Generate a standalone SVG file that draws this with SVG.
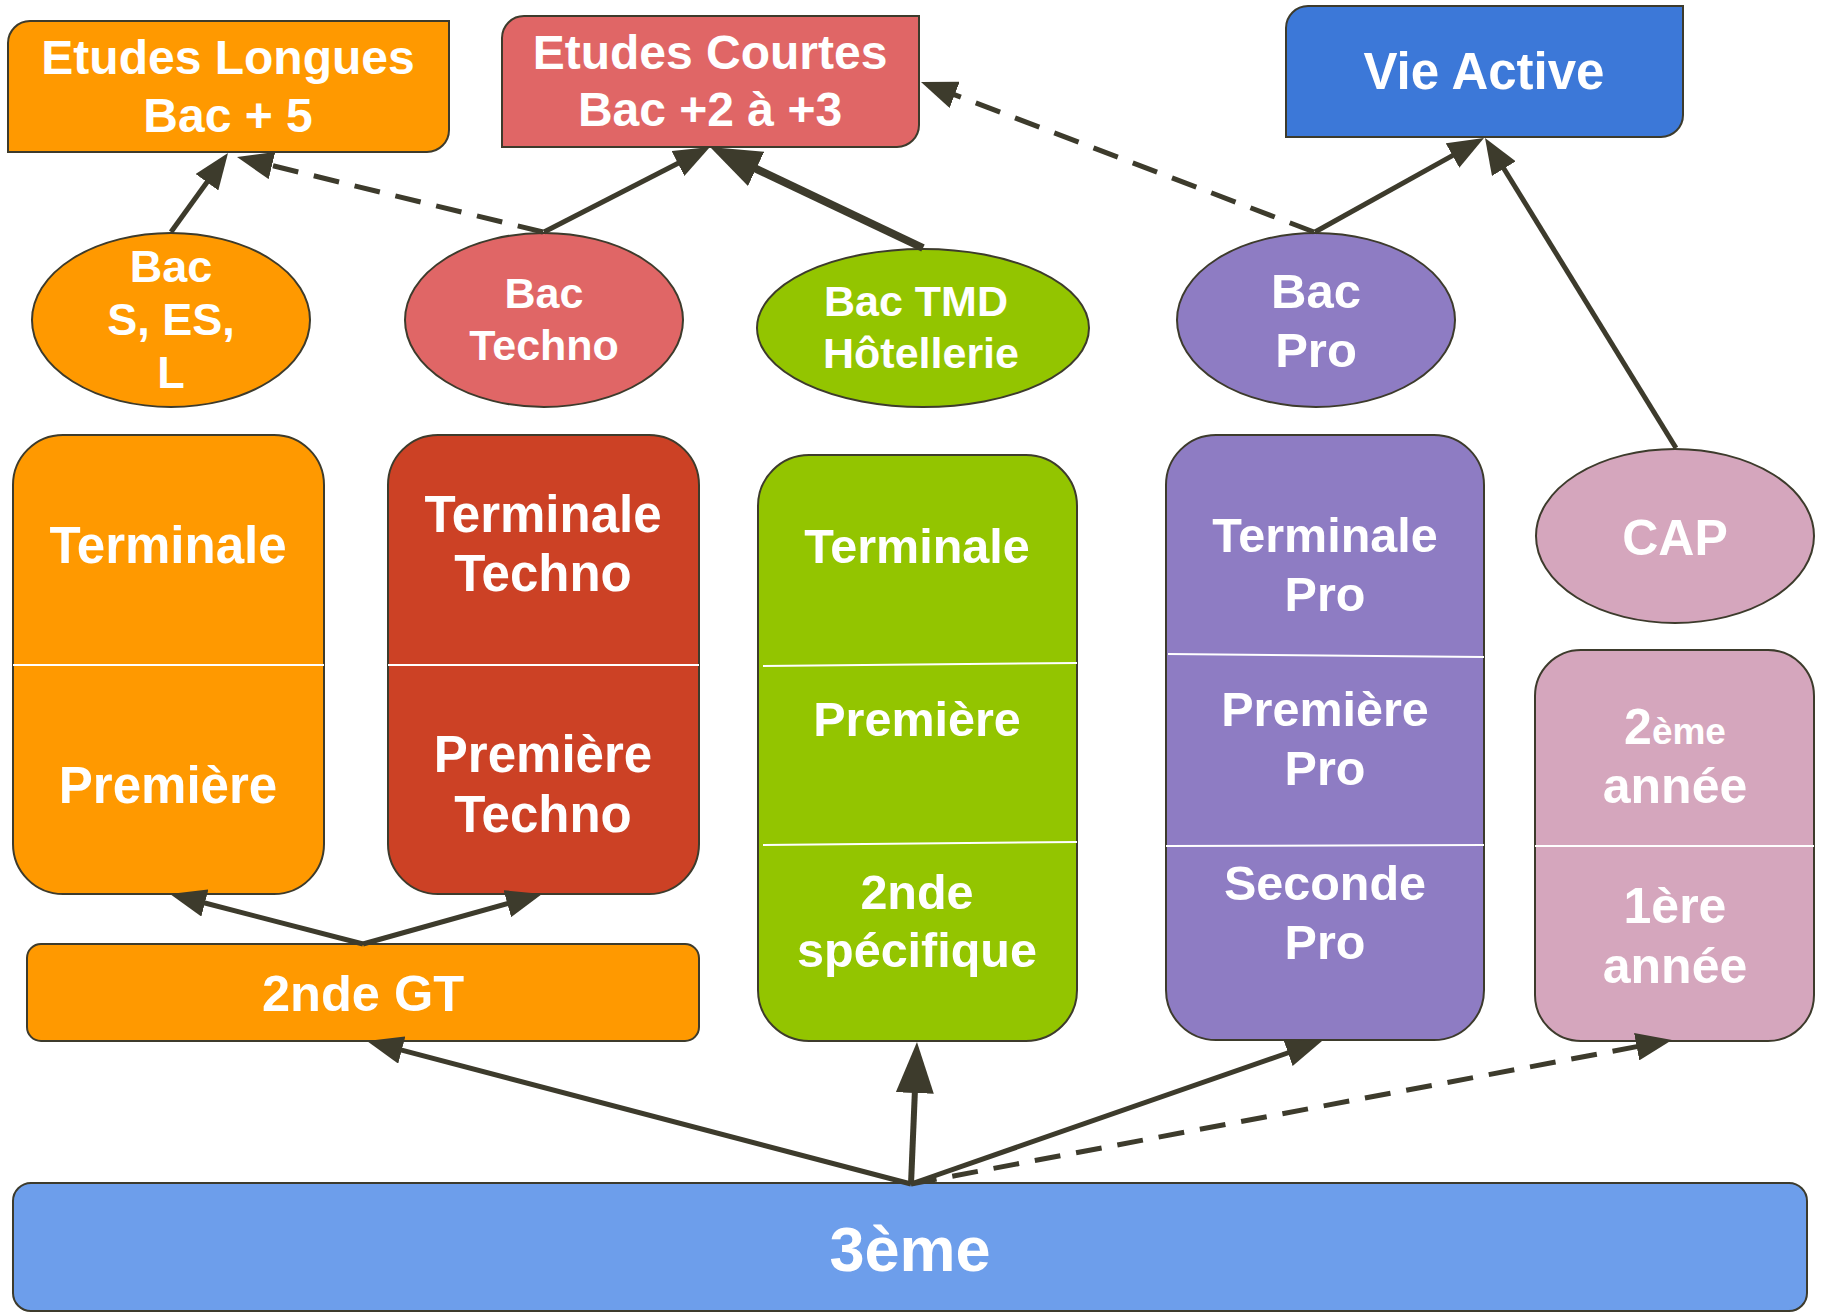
<svg xmlns="http://www.w3.org/2000/svg" width="1827" height="1313" viewBox="0 0 1827 1313">
<style>
.n{stroke:#3d3b2c;stroke-width:2}
.t{fill:#fff;font-family:"Liberation Sans",Arial,sans-serif;font-weight:bold;text-anchor:middle}
.dv{stroke:#fff;stroke-width:2;fill:none}
.c{stroke:#3d3b2c;stroke-width:5;fill:none;marker-end:url(#ah)}
.ck{stroke:#3d3b2c;stroke-width:8;fill:none;marker-end:url(#ahl)}
.d{stroke-dasharray:26 16}
</style>
<defs>
<marker id="ah" markerUnits="userSpaceOnUse" viewBox="-4 -14 36 28" markerWidth="36" markerHeight="28" refX="0" refY="0" orient="auto">
<path d="M-4,-14 L32,0 L-4,14 Z" fill="#3d3b2c"/>
</marker>
<marker id="ahl" markerUnits="userSpaceOnUse" viewBox="-4 -19 51 38" markerWidth="51" markerHeight="38" refX="0" refY="0" orient="auto">
<path d="M-4,-19 L47,0 L-4,19 Z" fill="#3d3b2c"/>
</marker>
</defs>
<rect width="1827" height="1313" fill="#fff"/>

<g id="etudes-longues">
<path class="n" fill="#FF9900" d="M8,152 L8,43 A22,22 0 0 1 30,21 L449,21 L449,130 A22,22 0 0 1 427,152 Z"/>
<text class="t" x="228" y="74" font-size="48">Etudes Longues</text>
<text class="t" x="228" y="132" font-size="48">Bac + 5</text>
</g>
<g id="etudes-courtes">
<path class="n" fill="#E06666" d="M502,147 L502,38 A22,22 0 0 1 524,16 L919,16 L919,125 A22,22 0 0 1 897,147 Z"/>
<text class="t" x="710" y="69" font-size="48">Etudes Courtes</text>
<text class="t" x="710" y="126" font-size="48">Bac +2 à +3</text>
</g>
<g id="vie-active">
<path class="n" fill="#3C78D8" d="M1286,137 L1286,28 A22,22 0 0 1 1308,6 L1683,6 L1683,115 A22,22 0 0 1 1661,137 Z"/>
<text class="t" x="1484" y="89" font-size="51">Vie Active</text>
</g>

<g id="bac-s">
<ellipse class="n" fill="#FF9900" cx="171" cy="320" rx="139" ry="87"/>
<text class="t" x="171" y="282" font-size="45">Bac</text>
<text class="t" x="171" y="335" font-size="45">S, ES,</text>
<text class="t" x="171" y="388" font-size="45">L</text>
</g>
<g id="bac-techno">
<ellipse class="n" fill="#E06666" cx="544" cy="320" rx="139" ry="87"/>
<text class="t" x="544" y="308" font-size="43">Bac</text>
<text class="t" x="544" y="360" font-size="43">Techno</text>
</g>
<g id="bac-tmd">
<ellipse class="n" fill="#93C500" cx="923" cy="328" rx="166" ry="79"/>
<text class="t" x="916" y="316" font-size="43">Bac TMD</text>
<text class="t" x="921" y="368" font-size="43">Hôtellerie</text>
</g>
<g id="bac-pro">
<ellipse class="n" fill="#8E7CC3" cx="1316" cy="320" rx="139" ry="87"/>
<text class="t" x="1316" y="308" font-size="49">Bac</text>
<text class="t" x="1316" y="367" font-size="49">Pro</text>
</g>
<g id="cap">
<ellipse class="n" fill="#D5A6BD" cx="1675" cy="536" rx="139" ry="87"/>
<text class="t" x="1675" y="555" font-size="50">CAP</text>
</g>

<g id="filiere-generale">
<rect class="n" fill="#FF9900" x="13" y="435" width="311" height="459" rx="50" ry="50"/>
<line class="dv" x1="13" y1="665" x2="324" y2="665"/>
<text class="t" x="168" y="563" font-size="51">Terminale</text>
<text class="t" x="168" y="803" font-size="51">Première</text>
</g>
<g id="filiere-techno">
<rect class="n" fill="#CC4125" x="388" y="435" width="311" height="459" rx="50" ry="50"/>
<line class="dv" x1="388" y1="665" x2="699" y2="665"/>
<text class="t" x="543" y="532" font-size="51">Terminale</text>
<text class="t" x="543" y="591" font-size="51">Techno</text>
<text class="t" x="543" y="772" font-size="51">Première</text>
<text class="t" x="543" y="832" font-size="51">Techno</text>
</g>
<g id="filiere-tmd">
<rect class="n" fill="#93C500" x="758" y="455" width="319" height="586" rx="51" ry="51"/>
<line class="dv" x1="763" y1="666" x2="1077" y2="663"/>
<line class="dv" x1="763" y1="845" x2="1077" y2="842"/>
<text class="t" x="917" y="563" font-size="48.5">Terminale</text>
<text class="t" x="917" y="736" font-size="48.5">Première</text>
<text class="t" x="917" y="909" font-size="48.5">2nde</text>
<text class="t" x="917" y="967" font-size="48.5">spécifique</text>
</g>
<g id="filiere-pro">
<rect class="n" fill="#8E7CC3" x="1166" y="435" width="318" height="605" rx="50" ry="50"/>
<line class="dv" x1="1168" y1="654" x2="1484" y2="657"/>
<line class="dv" x1="1166" y1="846" x2="1484" y2="845"/>
<text class="t" x="1325" y="552" font-size="48.5">Terminale</text>
<text class="t" x="1325" y="611" font-size="48.5">Pro</text>
<text class="t" x="1325" y="726" font-size="48.5">Première</text>
<text class="t" x="1325" y="785" font-size="48.5">Pro</text>
<text class="t" x="1325" y="900" font-size="48.5">Seconde</text>
<text class="t" x="1325" y="959" font-size="48.5">Pro</text>
</g>
<g id="filiere-cap">
<rect class="n" fill="#D5A6BD" x="1535" y="650" width="279" height="391" rx="46" ry="46"/>
<line class="dv" x1="1535" y1="846" x2="1814" y2="846"/>
<text class="t" x="1675" y="744" font-size="50">2<tspan font-size="37">ème</tspan></text>
<text class="t" x="1675" y="803" font-size="50">année</text>
<text class="t" x="1675" y="923" font-size="50">1ère</text>
<text class="t" x="1675" y="983" font-size="50">année</text>
</g>
<g id="seconde-gt">
<rect class="n" fill="#FF9900" x="27" y="944" width="672" height="97" rx="14" ry="14"/>
<text class="t" x="363" y="1011" font-size="50.5">2nde GT</text>
</g>
<g id="troisieme">
<rect class="n" fill="#6D9EEB" x="13" y="1183" width="1794" height="128" rx="18" ry="18"/>
<text class="t" x="910" y="1271" font-size="63">3ème</text>
</g>

<g id="connectors">
<line class="c" x1="171" y1="232" x2="209.3" y2="179"/>
<line class="c d" x1="543" y1="232" x2="268.1" y2="164.6"/>
<line class="c" x1="544" y1="232" x2="681.5" y2="161.6"/>
<line class="ck" x1="923" y1="248" x2="752.5" y2="167.1"/>
<line class="c d" x1="1314" y1="232" x2="950.9" y2="93.4"/>
<line class="c" x1="1315" y1="232" x2="1456" y2="153.6"/>
<line class="c" x1="1676" y1="448" x2="1501.8" y2="165.2"/>
<line class="c" x1="363" y1="944" x2="201" y2="902"/>
<line class="c" x1="363" y1="944" x2="511.2" y2="902.6"/>
<line class="c" x1="911" y1="1184" x2="397.9" y2="1049.1"/>
<line class="ck" style="stroke-width:6" x1="911" y1="1184" x2="915" y2="1089"/>
<line class="c" x1="911" y1="1184" x2="1291.8" y2="1051.5"/>
<line class="c d" x1="911" y1="1184" x2="1640.6" y2="1045.9"/>
</g>
</svg>
